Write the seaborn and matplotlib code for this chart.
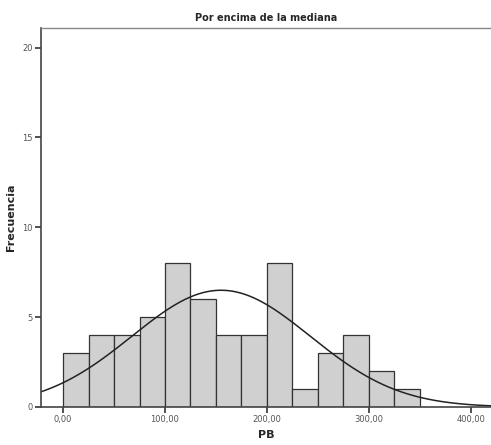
import numpy as np
import pandas as pd
import matplotlib
matplotlib.use("Agg")
import matplotlib.pyplot as plt
import seaborn as sns

# Data
bin_edges = [0, 25, 50, 75, 100, 125, 150, 175, 200, 225, 250, 275, 300, 325, 350]
counts = [3, 4, 4, 5, 8, 6, 4, 4, 8, 1, 3, 4, 2, 1]
curve_mean = 155.0
curve_sd = 87.5
x_ticks = [0, 100, 200, 300, 400]
x_tick_labels = ["0,00", "100,00", "200,00", "300,00", "400,00"]
y_ticks = [0, 5, 10, 15, 20]
title = "Por encima de la mediana"
xlabel = "PB"
ylabel = "Frecuencia"

sns.set_style("ticks")
plt.rcParams['font.family'] = ['DejaVu Sans']

centers = [(bin_edges[i] + bin_edges[i + 1]) / 2 for i in range(len(counts))]
df = pd.DataFrame({"PB": centers, "n": counts})

fig = plt.figure(figsize=(4.91, 4.45), dpi=100)
ax = fig.add_axes([0.083, 0.0854, 0.917, 0.852])

sns.histplot(data=df, x="PB", weights="n", bins=bin_edges, ax=ax,
             color="#d0d0d0", edgecolor="#333333", linewidth=0.9, alpha=1)

xs = np.linspace(-25, 425, 400)
binw = bin_edges[1] - bin_edges[0]
N = sum(counts)
ys = N * binw / (curve_sd * np.sqrt(2 * np.pi)) * np.exp(-0.5 * ((xs - curve_mean) / curve_sd) ** 2)
sns.lineplot(x=xs, y=ys, ax=ax, color="#222222", linewidth=1.1)

ax.set_xlim(-22, 420)
ax.set_ylim(0, 21.1)
ax.set_xticks(x_ticks)
ax.set_xticklabels(x_tick_labels)
ax.set_yticks(y_ticks)
ax.tick_params(axis='both', labelsize=6, colors="#333333", length=4, width=1.2,
               direction='out', pad=2)
for lbl in ax.get_xticklabels() + ax.get_yticklabels():
    lbl.set_color("#555555")
ax.set_xlabel(xlabel, fontsize=8, fontweight='bold', labelpad=4)
ax.set_ylabel(ylabel, fontsize=8, fontweight='bold', labelpad=4)
ax.set_title(title, fontsize=7, fontweight='bold', pad=5)

for side in ['left', 'bottom']:
    ax.spines[side].set_color("#444444")
    ax.spines[side].set_linewidth(1.2)
ax.spines['top'].set_visible(True)
ax.spines['top'].set_color("#888888")
ax.spines['top'].set_linewidth(1.0)
ax.spines['right'].set_visible(False)

fig.savefig("out.png", dpi=100, facecolor="white")
